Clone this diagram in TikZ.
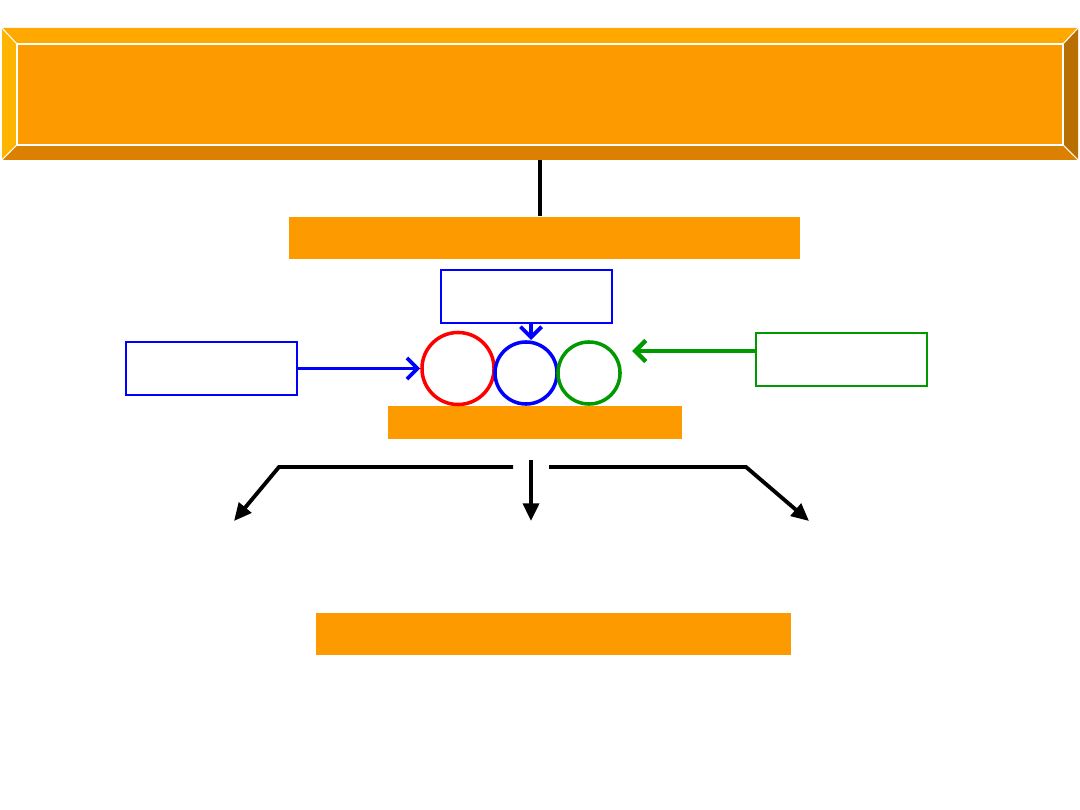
\documentclass[tikz,border=0pt]{standalone}
\usepackage{tikz}
\usetikzlibrary{arrows.meta}

\definecolor{face}{HTML}{FC9A00}
\definecolor{bevtop}{HTML}{FFA800}
\definecolor{bevleft}{HTML}{FFB400}
\definecolor{bevright}{HTML}{B86F00}
\definecolor{bevbot}{HTML}{DB8000}
\definecolor{bluebx}{HTML}{0000FF}
\definecolor{greenbx}{HTML}{009900}

\tikzset{
  bar/.style={fill=face, inner sep=0pt},
  framebox/.style={draw, line width=0.6pt, inner sep=0pt, minimum width=1.71cm, minimum height=0.53cm},
  ring/.style={circle, line width=1pt, inner sep=0pt},
  feed/.style={line width=1.1pt, -{Straight Barb[length=3pt,width=6pt]}},
  branch/.style={line width=1.1pt, -{Triangle[length=5pt,width=4.5pt]}}
}

\begin{document}
\begin{tikzpicture}[x=0.01cm, y=-0.01cm]
  \useasboundingbox (0,0) rectangle (1080,810);
  % bevelled title bar
  \coordinate (O1) at (2,28);
  \coordinate (O2) at (1078,28);
  \coordinate (O3) at (1078,160);
  \coordinate (O4) at (2,160);
  \coordinate (I1) at (17,44);
  \coordinate (I2) at (1063,44);
  \coordinate (I3) at (1063,145);
  \coordinate (I4) at (17,145);
  \fill[bevtop] (O1) -- (O2) -- (I2) -- (I1) -- cycle;
  \fill[bevright] (O2) -- (O3) -- (I3) -- (I2) -- cycle;
  \fill[bevbot] (O3) -- (O4) -- (I4) -- (I3) -- cycle;
  \fill[bevleft] (O4) -- (O1) -- (I1) -- (I4) -- cycle;
  \fill[face] (I1) rectangle (I3);
  \draw[white, line width=0.4pt] (I1) rectangle (I3);
  \draw[white, line width=0.3pt] (O1) -- (I1) (O2) -- (I2) (O3) -- (I3) (O4) -- (I4);
  \node[inner sep=0pt] (title) at (540,94) {};
  \coordinate (titleS) at (540,160);

  % orange bars
  \node[bar, minimum width=5.11cm, minimum height=0.42cm] (bar1) at (544.5,238) {};
  \node[bar, minimum width=2.94cm, minimum height=0.33cm] (bar2) at (535,422.5) {};
  \node[bar, minimum width=4.75cm, minimum height=0.42cm] (bar3) at (553.5,634) {};

  \draw[line width=1.1pt] (titleS) -- (540,216);

  % framed boxes
  \node[framebox, draw=bluebx] (upper) at (526.5,296.5) {};
  \node[framebox, draw=bluebx] (left) at (211.5,368.5) {};
  \node[framebox, draw=greenbx] (right) at (841.5,359.5) {};

  % the three circles
  \node[ring, draw=red, minimum size=0.72cm] (cred) at (458,368.5) {};
  \node[ring, draw=bluebx, minimum size=0.62cm] (cblue) at (526,373) {};
  \node[ring, draw=greenbx, minimum size=0.62cm] (cgreen) at (589,373) {};

  \coordinate (btip) at (531,340);
  \draw[feed, bluebx] (upper.south -| btip) -- (btip);
  \draw[feed, bluebx] (left.east) -- (left.east -| cred.west);
  \coordinate (gtip) at (632,351);
  \draw[feed, greenbx, line width=1.3pt] (right.west |- gtip) -- (gtip);

  % branches
  \coordinate (bL) at (234,521);
  \coordinate (bM) at (531,521);
  \coordinate (bR) at (809,521);
  \draw[branch] (513,467) -- (279,467) -- (bL);
  \draw[branch] (531,460) -- (bM);
  \draw[branch] (549,467) -- (746,467) -- (bR);
\end{tikzpicture}
\end{document}
